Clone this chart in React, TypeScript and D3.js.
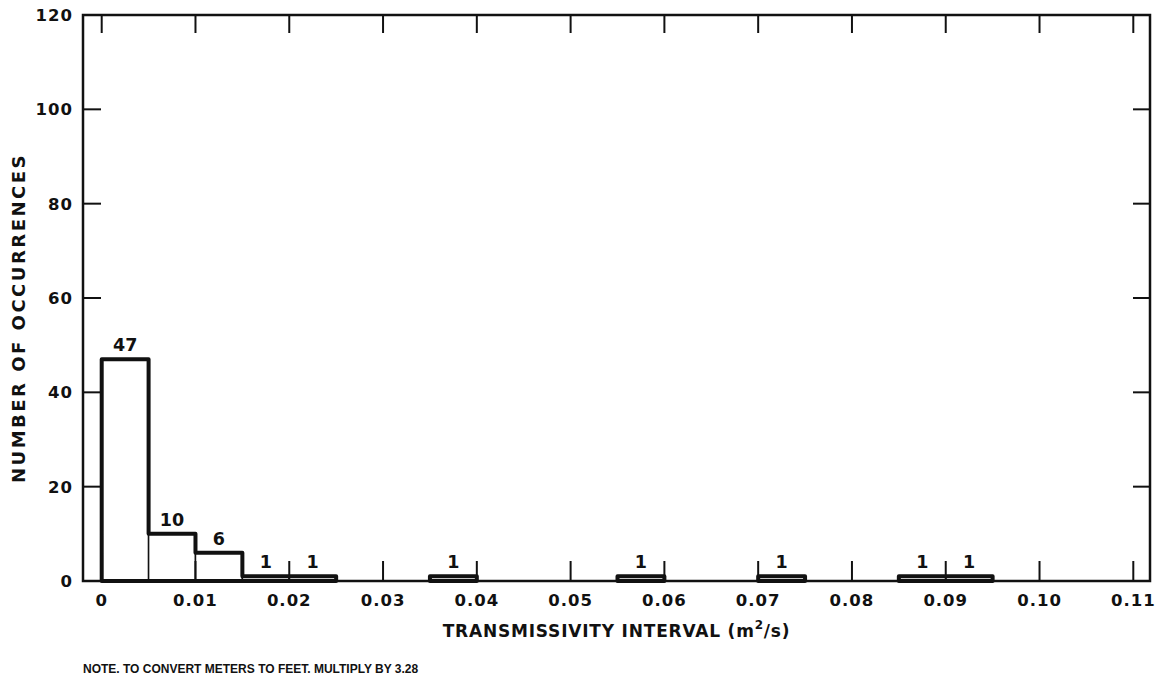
import React from 'react';
import * as d3 from 'd3';

// histogram of transmissivity, bins of 0.005 m2/s starting at 0
const binWidth = 0.005;
const counts = [47, 10, 6, 1, 1, 0, 0, 1, 0, 0, 0, 1, 0, 0, 1, 0, 0, 1, 1];

const xTickValues = [0, 0.01, 0.02, 0.03, 0.04, 0.05, 0.06, 0.07, 0.08, 0.09, 0.1, 0.11];
const xTickLabels = ['0', '0.01', '0.02', '0.03', '0.04', '0.05', '0.06', '0.07', '0.08', '0.09', '0.10', '0.11'];
const yTickValues = [0, 20, 40, 60, 80, 100, 120];

const FONT = '"DejaVu Sans", sans-serif';

const App = () => {
  const frame = { left: 83, right: 1150, top: 15, bottom: 581 };
  const x = d3.scaleLinear().domain([0, 0.11]).range([101.7, 1133.3]);
  const y = d3.scaleLinear().domain([0, 120]).range([frame.bottom, frame.top]);

  const bins = counts
    .map((c, i) => ({ x0: i * binWidth, x1: (i + 1) * binWidth, count: c }))
    .filter((b) => b.count > 0);

  // contiguous runs get one thick outline
  const runs: { x0: number; x1: number; count: number }[][] = [];
  bins.forEach((b) => {
    const last = runs[runs.length - 1];
    if (last && Math.abs(last[last.length - 1].x1 - b.x0) < 1e-9) last.push(b);
    else runs.push([b]);
  });

  const outline = (run) => {
    const p = d3.path();
    p.moveTo(x(run[0].x0), y(0));
    run.forEach((b) => {
      p.lineTo(x(b.x0), y(b.count));
      p.lineTo(x(b.x1), y(b.count));
    });
    p.lineTo(x(run[run.length - 1].x1), y(0));
    p.closePath();
    return p.toString();
  };

  return (
    <svg
      width={1167}
      height={682}
      style={{ position: 'absolute', left: 0, top: 0, background: '#fff' }}
    >
      {/* bars with thin dividers */}
      {bins.map((b, i) => (
        <rect
          key={i}
          x={x(b.x0)}
          y={y(b.count)}
          width={x(b.x1) - x(b.x0)}
          height={y(0) - y(b.count)}
          fill="#fff"
          stroke="#111"
          strokeWidth={1.5}
        />
      ))}

      {/* ticks */}
      {xTickValues.map((v, i) => (
        <g key={'xt' + i} stroke="#111" strokeWidth={2}>
          <line x1={x(v)} x2={x(v)} y1={frame.top} y2={frame.top + 18} />
          <line x1={x(v)} x2={x(v)} y1={frame.bottom} y2={frame.bottom - 20} />
        </g>
      ))}
      {yTickValues
        .filter((v) => v > 0 && v < 120)
        .map((v, i) => (
          <g key={'yt' + i} stroke="#111" strokeWidth={2}>
            <line x1={frame.left} x2={frame.left + 18} y1={y(v)} y2={y(v)} />
            <line x1={frame.right} x2={frame.right - 17} y1={y(v)} y2={y(v)} />
          </g>
        ))}

      {runs.map((run, i) => (
        <path
          key={'run' + i}
          d={outline(run)}
          fill="none"
          stroke="#111"
          strokeWidth={4}
          strokeLinejoin="round"
        />
      ))}

      <rect
        x={frame.left}
        y={frame.top}
        width={frame.right - frame.left}
        height={frame.bottom - frame.top}
        fill="none"
        stroke="#111"
        strokeWidth={2.5}
      />

      {/* count labels */}
      {bins.map((b, i) => (
        <text
          key={'lb' + i}
          x={x((b.x0 + b.x1) / 2)}
          y={y(b.count) - 8}
          textAnchor="middle"
          fontFamily={FONT}
          fontWeight="bold"
          fontSize={17.5}
          fill="#111"
        >
          {b.count}
        </text>
      ))}

      {/* tick labels */}
      {xTickValues.map((v, i) => (
        <text
          key={'xl' + i}
          x={x(v)}
          y={606}
          textAnchor="middle"
          fontFamily={FONT}
          fontWeight="bold"
          fontSize={16.5}
          letterSpacing={1}
          fill="#111"
        >
          {xTickLabels[i]}
        </text>
      ))}
      {yTickValues.map((v, i) => (
        <text
          key={'yl' + i}
          x={frame.left - 10}
          y={y(v)}
          dy="0.36em"
          textAnchor="end"
          fontFamily={FONT}
          fontWeight="bold"
          fontSize={16.5}
          letterSpacing={1}
          fill="#111"
        >
          {v}
        </text>
      ))}

      {/* axis titles */}
      <text
        x={(frame.left + frame.right) / 2}
        y={637}
        textAnchor="middle"
        fontFamily={FONT}
        fontWeight="bold"
        fontSize={17}
        letterSpacing={0.8}
        fill="#111"
      >
        TRANSMISSIVITY INTERVAL (m
        <tspan dy={-8} fontSize={12}>2</tspan>
        <tspan dy={8}>/s)</tspan>
      </text>
      <text
        transform={`translate(19, 318) rotate(-90)`}
        textAnchor="middle"
        dy="0.36em"
        fontFamily={FONT}
        fontWeight="bold"
        fontSize={18}
        letterSpacing={2.5}
        fill="#111"
      >
        NUMBER OF OCCURRENCES
      </text>

      <text
        x={83}
        y={673}
        fontFamily='"Liberation Sans", Arial, sans-serif'
        fontWeight="bold"
        fontSize={12}
        fill="#111"
      >
        NOTE. TO CONVERT METERS TO FEET. MULTIPLY BY 3.28
      </text>
    </svg>
  );
};

export default App;
